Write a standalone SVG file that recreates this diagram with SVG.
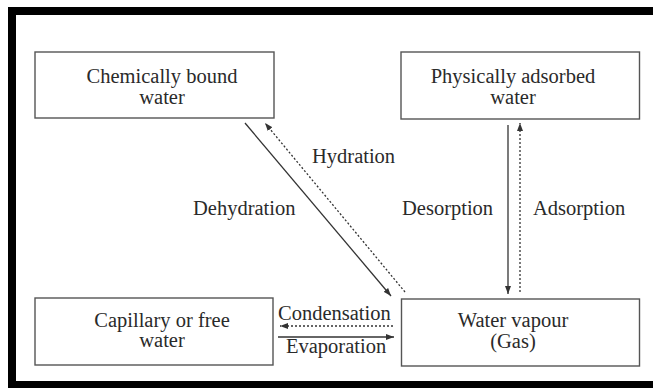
<svg xmlns="http://www.w3.org/2000/svg" width="653" height="388" viewBox="0 0 653 388">
<style>
.box{fill:#fff;stroke:#555;stroke-width:1.4}
.t{font-family:"Liberation Serif","Times New Roman",serif;font-size:20.5px;fill:#2a2a2a}
.c{text-anchor:middle}
.ln{stroke:#333;stroke-width:1.3;fill:none}
.dot{stroke-dasharray:2 2}
</style>
<defs>
<marker id="ah" markerUnits="userSpaceOnUse" markerWidth="9" markerHeight="6" refX="8" refY="3" orient="auto">
<path d="M0,0 L8,3 L0,6 z" fill="#333"/>
</marker>
</defs>
<rect width="653" height="388" fill="#fff"/>
<g id="frame" fill="#000">
<rect x="8" y="7" width="8" height="381"/>
<rect x="8" y="7" width="645" height="8"/>
<rect x="8" y="381" width="645" height="7"/>
</g>
<g id="chem">
<rect class="box" x="35" y="52" width="239" height="66"/>
<text class="t c" x="162" y="83">Chemically bound</text>
<text class="t c" x="162" y="104">water</text>
</g>
<g id="phys">
<rect class="box" x="401" y="52" width="238.5" height="67"/>
<text class="t c" x="513" y="83">Physically adsorbed</text>
<text class="t c" x="513" y="104">water</text>
</g>
<g id="cap">
<rect class="box" x="35" y="298" width="238" height="67"/>
<text class="t c" x="162" y="327">Capillary or free</text>
<text class="t c" x="162" y="347">water</text>
</g>
<g id="vapour">
<rect class="box" x="401.5" y="299" width="238" height="67"/>
<text class="t c" x="513" y="327">Water vapour</text>
<text class="t c" x="513" y="348">(Gas)</text>
</g>
<g id="connectors">
<path class="ln" d="M245,123 L391,296" marker-end="url(#ah)"/>
<path class="ln dot" d="M405,292 L265,123" marker-end="url(#ah)"/>
<path class="ln" d="M508,125 L508,294" marker-end="url(#ah)"/>
<path class="ln dot" d="M520,292 L520,123" marker-end="url(#ah)"/>
<path class="ln dot" d="M393,326 L280,326" marker-end="url(#ah)"/>
<path class="ln" d="M278,337 L394,337" marker-end="url(#ah)"/>
<text class="t" x="312" y="163">Hydration</text>
<text class="t" x="193" y="215">Dehydration</text>
<text class="t" x="402" y="215">Desorption</text>
<text class="t" x="533" y="215">Adsorption</text>
<text class="t" x="278" y="320">Condensation</text>
<text class="t" x="286" y="353">Evaporation</text>
</g>
</svg>
